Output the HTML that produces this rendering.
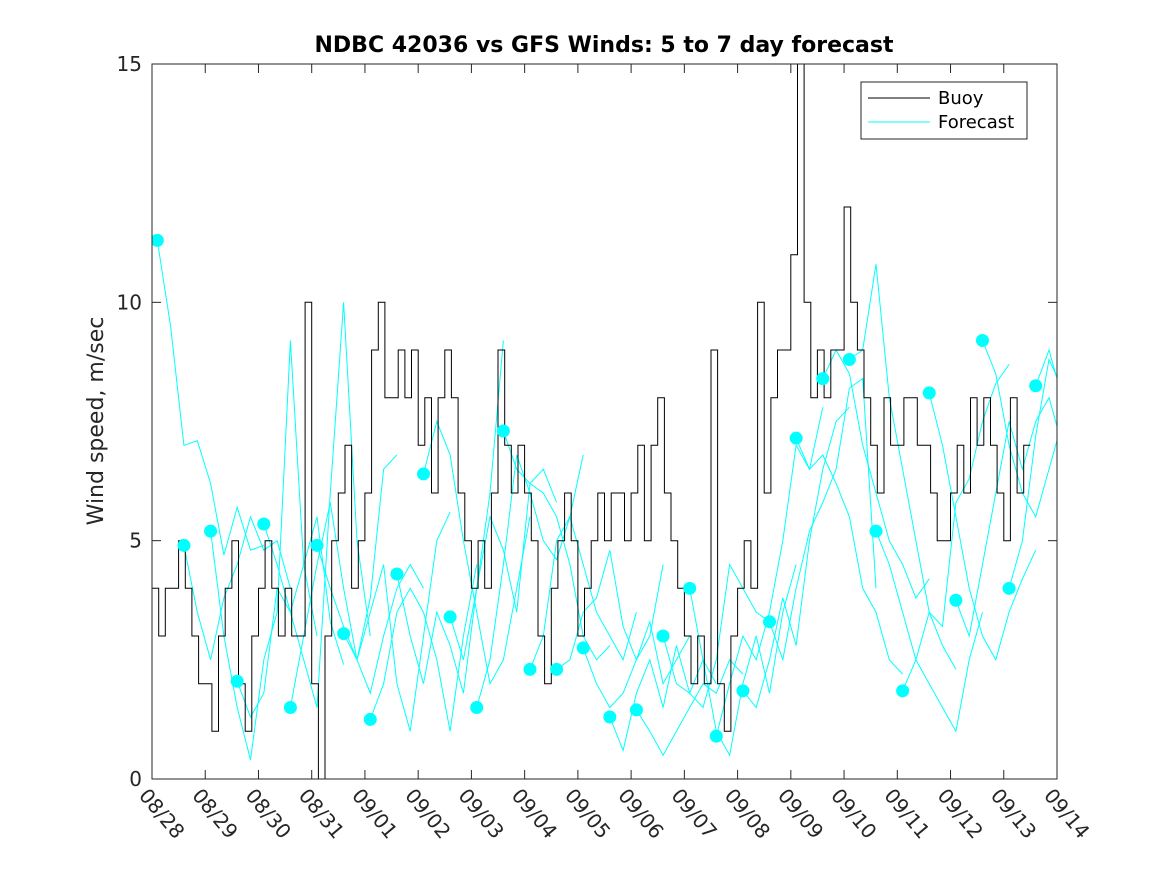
<!DOCTYPE html>
<html><head><meta charset="utf-8"><style>
body{margin:0;background:#fff;}
svg{display:block;font-family:"DejaVu Sans","Liberation Sans",sans-serif;}
</style></head><body>
<svg id="chart" width="1167" height="875" viewBox="0 0 1167 875">
<defs><clipPath id="clip"><rect x="152" y="64" width="905" height="715"/></clipPath></defs>
<rect width="1167" height="875" fill="#fff"/>
<text x="604" y="52" text-anchor="middle" font-size="22" font-weight="bold" fill="#000">NDBC 42036 vs GFS Winds: 5 to 7 day forecast</text>
<text transform="translate(103,421) rotate(-90)" text-anchor="middle" font-size="22" fill="#262626">Wind speed, m/sec</text>
<g id="plot" clip-path="url(#clip)"></g>
<g id="axes"></g>
<g>
<rect x="861" y="82" width="166" height="57" fill="#fff" stroke="#262626" stroke-width="1"/>
<line x1="868" y1="98" x2="930" y2="98" stroke="#000"/>
<text x="938" y="104" font-size="18" fill="#000">Buoy</text>
<line x1="868" y1="122" x2="930" y2="122" stroke="#00ffff"/>
<text x="938" y="128" font-size="18" fill="#000">Forecast</text>
</g>
</svg>
<script>
const dateLabels=["08/28","08/29","08/30","08/31","09/01","09/02","09/03","09/04","09/05","09/06","09/07","09/08","09/09","09/10","09/11","09/12","09/13","09/14"];
const yTicks=[0,5,10,15];
// buoy values at 3-hour steps starting 08/28 00:00
const buoy=[4,3,4,4,5,4,3,2, 2,1,3,4,5,2,1,3, 4,5,4,3,4,3,3,10, 2,0,3,5,6,7,4,5, 6,9,10,8,8,9,8,9, 7,8,6,8,9,8,6,5, 4,5,4,6,9,7,6,7, 6,5,3,2,4,5,6,5, 3,4,5,6,5,6,6,5, 6,7,5,7,8,6,5,4, 3,2,3,2,9,2,1,3, 4,5,4,10,6,8,9,9, 11,15,10,8,9,8,9,9, 12,10,9,8,7,6,8,7, 7,8,8,7,7,6,5,5, 6,7,6,8,7,8,7,6, 5,8,6,7];
// forecast run start times (days since 08/28) and values at 6-hour steps
const fcStart=[0.1,0.6,1.1,1.6,2.1,2.6,3.1,3.6,4.1,4.6,5.1,5.6,6.1,6.6,7.1,7.6,8.1,8.6,9.1,9.6,10.1,10.6,11.1,11.6,12.1,12.6,13.1,13.6,14.1,14.6,15.1,15.6,16.1,16.6];
const fcValues=[
[11.3,9.5,7,7.1,6.2,4.7,5.7,4.8,4.9],
[4.9,3.5,2.5,3.8,4.5,5.5,4.8,5,4],
[5.2,3,1.5,0.4,2.5,3.5,9.2,4.5,3],
[2.05,1.3,1.8,4,3.5,4.5,5.5,3.3,2.4],
[5.35,4.5,3.5,2.5,1.5,6,10,5,3],
[1.5,3,4.5,5.8,4,2.5,3.8,6.5,6.8],
[4.9,4,3.2,2.5,1.8,3,4,4.5,4],
[3.05,2.5,3.5,4.5,2,1,3,5,5.6],
[1.25,2,3.5,4,3.5,2.5,1,3,4.5],
[4.3,3,2,3.5,2.8,1.8,4,6,9.2],
[6.4,7.5,6.8,5,3.5,2,2.5,4,5.5],
[3.4,2.5,4,5.5,4.8,3.5,6.2,6.5,5.8],
[1.5,2.5,4.5,6.8,6,5,4.6,5.5,6.8],
[7.3,6.5,6.2,6,5.5,4.5,3,2.5,2.8],
[2.3,3,5,5.5,4.5,3.5,3,2.5,3.5],
[2.3,2.5,3.5,3.8,4.8,3.2,2.5,3,4.5],
[2.75,2,1.5,1.8,2.5,3.3,2,2.5,3],
[1.3,0.6,1.8,2.5,1.5,2.8,1.8,2.5,2],
[1.45,1,0.5,1,1.5,2,1.8,2.5,2.2],
[3.0,2,1.8,1.5,2.5,4.5,4,3.5,3.3],
[4.0,2.5,1,0.5,2,3,1.8,3.5,4.5],
[0.9,2,3,2.5,3.5,5,7,6.5,7.8],
[1.85,1.5,2.5,3.8,2.8,5,6.5,7.5,7.8],
[3.3,2.5,4,5.2,5.8,6.5,8.2,8.4,4],
[7.15,6.5,6.8,6.2,5.5,4,3.5,2.5,2.2],
[8.4,9,8.5,7,6,5,4.5,3.8,4.2],
[8.8,9,10.8,8,6.5,5,3.5,2.8,2.3],
[5.2,4.5,3.5,2.5,2,1.5,1,2.5,3.5],
[1.85,2.5,3.5,3.2,5.8,6.3,7.5,8.3,8.7],
[8.1,7,5.5,4,3,2.5,3.5,4.2,4.8],
[3.75,3,4.5,6,7.5,6.5,7.5,8,7],
[9.2,8.5,7,6,5.5,6.5,7.5,8.2,7.8],
[4.0,5,7.2,8.8,8.2,9.5,10,9.2,6.5],
[8.25,9,8,6,4.5,5.5,4.8,4.4,5]
];
const NS='http://www.w3.org/2000/svg';
const X0=152,X1=1057,Y0=779,Y1=64;
function xs(d){return X0+(X1-X0)*d/17;}
function ys(v){return Y0-(Y0-Y1)*v/15;}
const plot=document.getElementById('plot');
const axes=document.getElementById('axes');
fcValues.forEach(function(vals,i){
  const pts=vals.map(function(v,k){return xs(fcStart[i]+k*0.25).toFixed(1)+','+ys(v).toFixed(1);}).join(' ');
  const pl=document.createElementNS(NS,'polyline');
  pl.setAttribute('points',pts);pl.setAttribute('fill','none');pl.setAttribute('stroke','#00ffff');pl.setAttribute('stroke-width','1');
  
  
  plot.appendChild(pl);
});
let d='';
buoy.forEach(function(v,k){
  const x=xs(k/8),x2=xs((k+1)/8),y=ys(v);
  d+=(k===0?'M':'L')+x.toFixed(1)+','+y.toFixed(1)+'L'+x2.toFixed(1)+','+y.toFixed(1);
});
const bp=document.createElementNS(NS,'path');
bp.setAttribute('d',d);bp.setAttribute('fill','none');bp.setAttribute('stroke','#000');bp.setAttribute('stroke-width','1');


plot.appendChild(bp);
fcValues.forEach(function(vals,i){
  const c=document.createElementNS(NS,'circle');
  c.setAttribute('cx',xs(fcStart[i]));c.setAttribute('cy',ys(vals[0]));c.setAttribute('r','6.5');c.setAttribute('fill','#00ffff');
  
  
  plot.appendChild(c);
});
const box=document.createElementNS(NS,'rect');
box.setAttribute('x',X0);box.setAttribute('y',Y1);box.setAttribute('width',X1-X0);box.setAttribute('height',Y0-Y1);
box.setAttribute('fill','none');box.setAttribute('stroke','#262626');box.setAttribute('stroke-width','1');


axes.appendChild(box);
function ln(x1,y1,x2,y2,name){const l=document.createElementNS(NS,'line');l.setAttribute('x1',x1);l.setAttribute('y1',y1);l.setAttribute('x2',x2);l.setAttribute('y2',y2);l.setAttribute('stroke','#262626');


axes.appendChild(l);}
dateLabels.forEach(function(lab,i){
  const x=xs(i);
  ln(x,Y0,x,Y0-9,'x-tick');ln(x,Y1,x,Y1+9,'x-tick-top');
  const t=document.createElementNS(NS,'text');
  t.setAttribute('transform','translate('+(x-14)+','+(Y0+17)+') rotate(50)');
  t.setAttribute('font-size','20');t.setAttribute('fill','#262626');
  t.textContent=lab;
  
  
  axes.appendChild(t);
});
yTicks.forEach(function(v){
  const y=ys(v);
  ln(X0,y,X0+9,y,'y-tick');ln(X1,y,X1-9,y,'y-tick-right');
  const t=document.createElementNS(NS,'text');
  t.setAttribute('x',X0-10);t.setAttribute('y',y+7);t.setAttribute('text-anchor','end');
  t.setAttribute('font-size','20');t.setAttribute('fill','#262626');
  t.textContent=v;
  
  
  axes.appendChild(t);
});
</script>
</body></html>
